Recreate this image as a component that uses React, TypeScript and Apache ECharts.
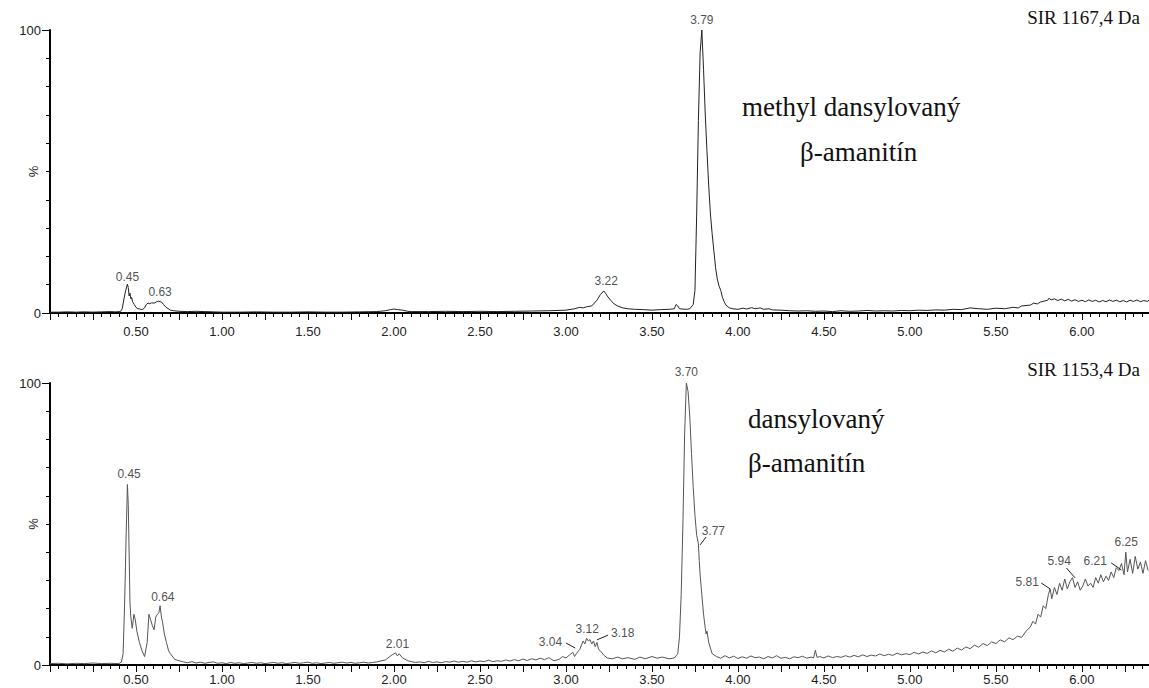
import React, { useEffect, useRef } from "react";
import * as echarts from "echarts";

// retention time (min), relative intensity (%)
const topTrace: [number, number][] = [
  [0.0, 0.3], [0.05, 0.3], [0.1, 0.4], [0.15, 0.3], [0.2, 0.4], [0.25, 0.3], [0.3, 0.4], [0.35, 0.5], [0.38, 0.4],
  [0.41, 0.5], [0.42, 1.5], [0.43, 5], [0.44, 8], [0.45, 10.2], [0.455, 9], [0.46, 6], [0.465, 7], [0.47, 5],
  [0.475, 5.5], [0.48, 4], [0.49, 3], [0.5, 2], [0.51, 1.5], [0.52, 1.5], [0.53, 1.2], [0.54, 1.3], [0.55, 1.8],
  [0.56, 3], [0.57, 3.5], [0.58, 3.3], [0.59, 3.6], [0.6, 3.5], [0.61, 3.6], [0.62, 4.0], [0.63, 4.2], [0.64, 4.0],
  [0.65, 3.8], [0.66, 3.0], [0.67, 2.3], [0.68, 1.8], [0.69, 1.4], [0.7, 1.0], [0.72, 0.8], [0.75, 0.6], [0.8, 0.5],
  [0.85, 0.6], [0.9, 0.5], [0.95, 0.4], [1.0, 0.3], [1.1, 0.3], [1.2, 0.4], [1.3, 0.3], [1.4, 0.3], [1.5, 0.4],
  [1.6, 0.3], [1.7, 0.3], [1.8, 0.4], [1.9, 0.5], [1.95, 0.8], [1.98, 1.2], [2.0, 1.4], [2.02, 1.2], [2.05, 1.0],
  [2.08, 0.6], [2.1, 0.5], [2.2, 0.5], [2.3, 0.6], [2.4, 0.5], [2.5, 0.6], [2.6, 0.5], [2.7, 0.6], [2.8, 0.7],
  [2.9, 0.8], [3.0, 1.0], [3.05, 1.5], [3.08, 2.0], [3.1, 1.8], [3.12, 2.2], [3.15, 2.5], [3.18, 4.5], [3.2, 6.5],
  [3.22, 7.8], [3.23, 7.0], [3.24, 6.0], [3.26, 4.5], [3.28, 3.2], [3.3, 2.5], [3.33, 1.8], [3.36, 1.5], [3.4, 1.3],
  [3.45, 1.2], [3.5, 1.0], [3.55, 1.2], [3.6, 1.3], [3.63, 1.5], [3.64, 3.0], [3.65, 2.5], [3.66, 1.5], [3.68, 1.4],
  [3.7, 1.3], [3.72, 1.5], [3.74, 3], [3.75, 8], [3.76, 35], [3.77, 68], [3.78, 92], [3.79, 100], [3.8, 86],
  [3.81, 70], [3.82, 57], [3.83, 45], [3.84, 35], [3.85, 28], [3.86, 22], [3.87, 16], [3.88, 12], [3.89, 9.5],
  [3.9, 8], [3.91, 5.5], [3.92, 4], [3.93, 2.8], [3.95, 1.8], [3.97, 1.5], [4.0, 1.3], [4.03, 1.7], [4.05, 1.4],
  [4.08, 1.9], [4.1, 1.5], [4.13, 1.8], [4.15, 1.3], [4.18, 1.5], [4.2, 1.1], [4.25, 1.0], [4.3, 0.8], [4.35, 0.7],
  [4.4, 0.8], [4.45, 0.6], [4.5, 0.7], [4.55, 0.5], [4.6, 0.8], [4.65, 0.6], [4.7, 0.7], [4.75, 0.9], [4.8, 0.7],
  [4.85, 0.8], [4.9, 0.7], [4.95, 0.9], [5.0, 0.8], [5.05, 1.0], [5.1, 0.9], [5.15, 1.1], [5.2, 1.0], [5.25, 1.3],
  [5.3, 1.2], [5.35, 1.8], [5.4, 1.5], [5.45, 1.3], [5.5, 1.7], [5.55, 1.5], [5.6, 2.0], [5.63, 1.8], [5.65, 2.5],
  [5.7, 2.8], [5.72, 3.5], [5.74, 3.2], [5.76, 3.9], [5.78, 4.2], [5.8, 4.5], [5.81, 5.3], [5.82, 4.6], [5.84, 5.0],
  [5.86, 4.4], [5.88, 4.9], [5.9, 4.3], [5.92, 4.8], [5.94, 4.2], [5.96, 4.7], [5.98, 4.1], [6.0, 4.5], [6.02, 4.0],
  [6.04, 4.6], [6.06, 4.1], [6.08, 4.5], [6.1, 3.9], [6.12, 4.4], [6.14, 4.0], [6.16, 4.6], [6.18, 4.1], [6.2, 4.5],
  [6.22, 4.0], [6.24, 4.4], [6.26, 3.9], [6.28, 4.5], [6.3, 4.1], [6.32, 4.6], [6.34, 4.0], [6.36, 4.4], [6.38, 4.1],
  [6.39, 4.5],
];

const bottomTrace: [number, number][] = [
  [0.0, 0.5], [0.05, 0.6], [0.1, 0.4], [0.15, 0.6], [0.2, 0.5], [0.25, 0.7], [0.3, 0.5], [0.35, 0.6], [0.4, 0.5],
  [0.415, 1], [0.425, 4], [0.432, 18], [0.437, 30], [0.443, 47], [0.447, 56], [0.45, 64], [0.455, 57], [0.46, 40],
  [0.465, 22], [0.47, 17], [0.478, 13], [0.488, 18], [0.496, 16], [0.505, 12], [0.52, 8], [0.535, 5], [0.55, 3],
  [0.565, 8], [0.575, 18], [0.585, 16], [0.595, 14], [0.605, 12.5], [0.615, 17], [0.625, 18], [0.633, 18.5],
  [0.64, 21], [0.648, 17], [0.655, 15], [0.665, 11], [0.677, 8], [0.69, 5], [0.7, 4], [0.725, 2], [0.75, 1.5],
  [0.775, 1.1], [0.8, 0.8], [0.825, 1.2], [0.85, 0.7], [0.875, 1.0], [0.9, 0.6], [0.925, 0.9], [0.95, 1.1],
  [0.975, 0.6], [1.0, 0.8], [1.025, 0.5], [1.05, 0.9], [1.075, 0.6], [1.1, 0.8], [1.125, 0.5], [1.15, 0.7],
  [1.175, 0.9], [1.2, 0.6], [1.225, 0.8], [1.25, 0.5], [1.275, 0.7], [1.3, 0.9], [1.325, 0.6], [1.35, 0.8],
  [1.375, 0.5], [1.4, 0.7], [1.425, 0.9], [1.45, 0.6], [1.475, 0.8], [1.5, 1.0], [1.525, 0.6], [1.55, 0.8],
  [1.575, 0.5], [1.6, 0.7], [1.625, 0.9], [1.65, 0.6], [1.675, 0.8], [1.7, 1.0], [1.725, 0.7], [1.75, 0.9],
  [1.775, 0.6], [1.8, 0.8], [1.825, 1.0], [1.85, 0.7], [1.875, 0.9], [1.9, 1.1], [1.95, 1.8],
  [1.98, 3.2], [2.0, 4.0], [2.01, 4.3], [2.02, 3.2], [2.03, 4.0], [2.05, 2.5], [2.08, 1.5], [2.1, 1.2],
  [2.125, 0.9], [2.15, 1.1], [2.175, 0.8], [2.2, 1.3], [2.225, 0.9], [2.25, 1.1], [2.275, 0.8], [2.3, 1.2],
  [2.325, 1.0], [2.35, 1.4], [2.375, 1.0], [2.4, 1.3], [2.425, 1.0], [2.45, 1.5], [2.475, 1.1], [2.5, 1.4],
  [2.525, 1.2], [2.55, 1.7], [2.575, 1.2], [2.6, 1.5], [2.625, 1.3], [2.65, 1.8], [2.675, 1.4], [2.7, 1.9],
  [2.725, 1.5], [2.75, 2.1], [2.775, 1.6], [2.8, 2.2], [2.825, 1.8], [2.85, 2.4], [2.875, 1.9], [2.9, 2.6],
  [2.93, 1.5], [2.96, 2.0], [2.98, 3.0],
  [3.0, 2.5], [3.02, 3.5], [3.04, 4.5], [3.05, 3.0], [3.06, 4.0], [3.08, 5.5], [3.1, 8.5], [3.11, 7.5], [3.12, 9.5],
  [3.13, 8.5], [3.14, 9.0], [3.15, 7.5], [3.16, 8.5], [3.17, 6.5], [3.18, 8.0], [3.19, 5.5], [3.2, 5.0], [3.22, 3.5],
  [3.24, 2.5], [3.27, 2.2], [3.3, 2.8], [3.33, 2.2], [3.36, 2.6], [3.4, 2.0], [3.43, 2.8], [3.46, 2.2], [3.5, 3.0],
  [3.53, 2.4], [3.56, 2.8], [3.6, 2.2], [3.63, 2.5], [3.65, 4.0], [3.66, 10], [3.67, 25], [3.68, 50], [3.69, 82],
  [3.7, 100], [3.71, 97], [3.72, 88], [3.73, 75], [3.74, 63], [3.75, 53], [3.76, 46], [3.77, 43], [3.775, 37],
  [3.78, 32], [3.79, 25], [3.8, 18], [3.81, 13], [3.815, 11], [3.82, 12], [3.83, 8], [3.84, 6], [3.85, 4],
  [3.875, 3.0], [3.9, 2.4], [3.925, 3.3], [3.95, 2.5], [3.975, 3.1], [4.0, 2.3], [4.025, 2.9], [4.05, 2.4],
  [4.075, 3.2], [4.1, 2.6], [4.125, 2.8], [4.15, 2.2], [4.175, 3.0], [4.2, 2.5], [4.225, 3.3], [4.25, 2.4],
  [4.275, 2.7], [4.3, 2.2], [4.325, 2.9], [4.35, 2.6], [4.375, 3.1], [4.4, 2.4], [4.425, 2.8], [4.44, 2.5],
  [4.45, 5.2], [4.46, 2.7], [4.475, 3.0], [4.5, 2.5], [4.525, 3.2], [4.55, 2.6], [4.575, 3.0], [4.6, 2.7],
  [4.625, 3.3], [4.65, 2.8], [4.675, 3.4], [4.7, 2.9], [4.725, 3.6], [4.75, 3.0], [4.775, 3.5], [4.8, 3.2],
  [4.825, 3.9], [4.85, 3.3], [4.875, 3.8], [4.9, 3.4], [4.925, 4.2], [4.95, 3.6], [4.975, 4.0], [5.0, 3.7],
  [5.025, 4.5], [5.05, 3.9], [5.075, 4.6], [5.1, 4.1], [5.125, 5.0], [5.15, 4.3], [5.175, 5.2], [5.2, 4.6],
  [5.225, 5.6], [5.25, 4.9], [5.275, 6.0], [5.3, 5.3], [5.325, 6.4], [5.35, 5.8], [5.375, 7.0], [5.4, 6.3],
  [5.425, 7.6], [5.45, 6.9], [5.475, 8.2], [5.5, 7.6], [5.525, 8.9], [5.55, 8.2], [5.575, 9.6], [5.6, 9.0],
  [5.625, 10.2], [5.65, 9.8], [5.675, 12.0], [5.7, 13.5], [5.715, 15.5], [5.73, 14.5], [5.745, 18.0], [5.76, 17.0],
  [5.775, 21.0], [5.79, 20.0], [5.805, 25.0], [5.815, 27.0], [5.825, 23.5], [5.84, 27.5], [5.855, 25.0], [5.87, 29.0],
  [5.885, 26.5], [5.9, 30.5], [5.915, 27.0], [5.93, 29.5], [5.945, 31.0], [5.96, 27.5], [5.975, 29.5], [5.99, 26.5],
  [6.005, 28.0], [6.02, 30.5], [6.035, 28.0], [6.05, 29.0], [6.065, 27.5], [6.08, 31.0], [6.095, 29.0], [6.11, 32.0],
  [6.125, 29.5], [6.14, 31.5], [6.155, 30.0], [6.17, 33.0], [6.185, 31.0], [6.2, 34.5], [6.215, 33.5], [6.23, 36.0],
  [6.245, 32.0], [6.255, 40.0], [6.265, 33.0], [6.28, 37.5], [6.295, 32.5], [6.31, 38.5], [6.325, 34.0], [6.34, 36.5],
  [6.355, 32.5], [6.37, 37.0], [6.385, 33.5],
];

const xTickLabels = ["0.50", "1.00", "1.50", "2.00", "2.50", "3.00", "3.50", "4.00", "4.50", "5.00", "5.50", "6.00"];
const yTickLabels = ["0", "100"];

// label anchor [time, %, text]
const topPeakLabels: [number, number, string][] = [
  [0.45, 12.7, "0.45"], [0.64, 7.4, "0.63"], [3.234, 11.3, "3.22"], [3.79, 103.5, "3.79"],
];
const bottomPeakLabels: [number, number, string][] = [
  [0.46, 67.7, "0.45"], [0.656, 24.1, "0.64"], [2.02, 7.4, "2.01"], [2.91, 8.2, "3.04"], [3.124, 12.8, "3.12"],
  [3.33, 11.3, "3.18"], [3.70, 103.9, "3.70"], [3.857, 47.5, "3.77"], [5.682, 29.4, "5.81"], [5.868, 36.9, "5.94"],
  [6.077, 36.9, "6.21"], [6.257, 43.6, "6.25"],
];
// leader lines [t1, y1, t2, y2]
const bottomLeaders: [number, number, number, number][] = [
  [3.0, 7.8, 3.054, 6.0], [3.18, 8.9, 3.245, 10.6], [3.78, 42.6, 3.815, 45.4], [5.763, 29.1, 5.815, 27.0],
  [5.91, 34.4, 5.96, 30.9], [6.17, 36.2, 6.23, 33.7],
];

const SANS = "'Liberation Sans', Arial, sans-serif";
const SERIF = "'Liberation Serif', 'Times New Roman', serif";

function xAxis(gridIndex: number, margin: number) {
  return {
    type: "value", gridIndex, min: 0, max: 6.39, interval: 0.25,
    axisLine: { show: true, onZero: false, lineStyle: { color: "#000", width: 2 } },
    axisTick: { show: true, length: 7, lineStyle: { color: "#000", width: 1 } },
    minorTick: { show: true, splitNumber: 5, length: 4, lineStyle: { color: "#000", width: 1 } },
    axisLabel: {
      formatter: (v: number) => (xTickLabels.includes(v.toFixed(2)) ? v.toFixed(2) : ""),
      color: "#222", fontFamily: SANS, fontSize: 13, margin,
      showMinLabel: false, showMaxLabel: false,
    },
    splitLine: { show: false },
  };
}
function yAxis(gridIndex: number) {
  return {
    type: "value", gridIndex, min: 0, max: 100, interval: 100,
    name: "%", nameLocation: "middle", nameRotate: 90, nameGap: 10, nameMoveOverlap: false,
    nameTextStyle: { fontFamily: SANS, fontSize: 13, color: "#222" },
    axisLine: { show: true, lineStyle: { color: "#000", width: 2 } },
    axisTick: { show: true, length: 8, lineStyle: { color: "#000", width: 1 } },
    minorTick: { show: true, splitNumber: 10, length: 4, lineStyle: { color: "#000", width: 1 } },
    axisLabel: {
      formatter: (v: number) => (yTickLabels.includes(String(v)) ? String(v) : ""),
      color: "#222", fontFamily: SANS, fontSize: 13, margin: 9,
    },
    splitLine: { show: false },
  };
}
function labelSeries(idx: number, labels: [number, number, string][], leaders: [number, number, number, number][]) {
  return {
    type: "scatter", xAxisIndex: idx, yAxisIndex: idx, symbolSize: 0, clip: false, silent: true,
    itemStyle: { color: "#222" },
    data: labels.map((l) => ({ value: [l[0], l[1]], name: l[2] })),
    label: {
      show: true, position: "inside", formatter: (p: any) => p.name,
      color: "#222", fontFamily: SANS, fontSize: 12, textBorderWidth: 0, textBorderColor: "transparent",
    },
    markLine: {
      silent: true, symbol: ["none", "none"], animation: false,
      label: { show: false },
      lineStyle: { color: "#222", width: 1, type: "solid" },
      data: leaders.map((d) => [{ coord: [d[0], d[1]] }, { coord: [d[2], d[3]] }]),
    },
  };
}

export default function App() {
  const ref = useRef<HTMLDivElement>(null);
  useEffect(() => {
    if (!ref.current) return;
    const chart = echarts.init(ref.current, null, { renderer: "svg" });
    chart.setOption({
      animation: false,
      backgroundColor: "#fff",
      grid: [
        { left: 50, right: 0, top: 30, height: 283, containLabel: false, outerBoundsMode: "none" },
        { left: 50, right: 0, top: 383, height: 282, containLabel: false, outerBoundsMode: "none" },
      ],
      xAxis: [xAxis(0, 12), xAxis(1, 8)],
      yAxis: [yAxis(0), yAxis(1)],
      series: [
        {
          type: "line", xAxisIndex: 0, yAxisIndex: 0, data: topTrace, showSymbol: false, symbol: "none",
          lineStyle: { color: "#222", width: 1 },
        },
        {
          type: "line", xAxisIndex: 1, yAxisIndex: 1, data: bottomTrace, showSymbol: false, symbol: "none",
          lineStyle: { color: "#555", width: 1 },
        },
        labelSeries(0, topPeakLabels, []),
        labelSeries(1, bottomPeakLabels, bottomLeaders),
      ],
      graphic: [
        { type: "text", x: 1140, y: 17, style: { text: "SIR 1167,4 Da", font: `19px ${SERIF}`, fill: "#111", textAlign: "right", textVerticalAlign: "middle" } },
        { type: "text", x: 1140, y: 369, style: { text: "SIR 1153,4 Da", font: `19px ${SERIF}`, fill: "#111", textAlign: "right", textVerticalAlign: "middle" } },
        { type: "text", x: 742, y: 107, style: { text: "methyl dansylovaný", font: `27px ${SERIF}`, fill: "#111", textAlign: "left", textVerticalAlign: "middle" } },
        { type: "text", x: 800, y: 152, style: { text: "β-amanitín", font: `27px ${SERIF}`, fill: "#111", textAlign: "left", textVerticalAlign: "middle" } },
        { type: "text", x: 748, y: 419, style: { text: "dansylovaný", font: `27px ${SERIF}`, fill: "#111", textAlign: "left", textVerticalAlign: "middle" } },
        { type: "text", x: 748, y: 463, style: { text: "β-amanitín", font: `27px ${SERIF}`, fill: "#111", textAlign: "left", textVerticalAlign: "middle" } },
      ],
    });
    return () => chart.dispose();
  }, []);
  return <div ref={ref} style={{ position: "absolute", left: 0, top: 0, width: 1149, height: 688 }} />;
}
